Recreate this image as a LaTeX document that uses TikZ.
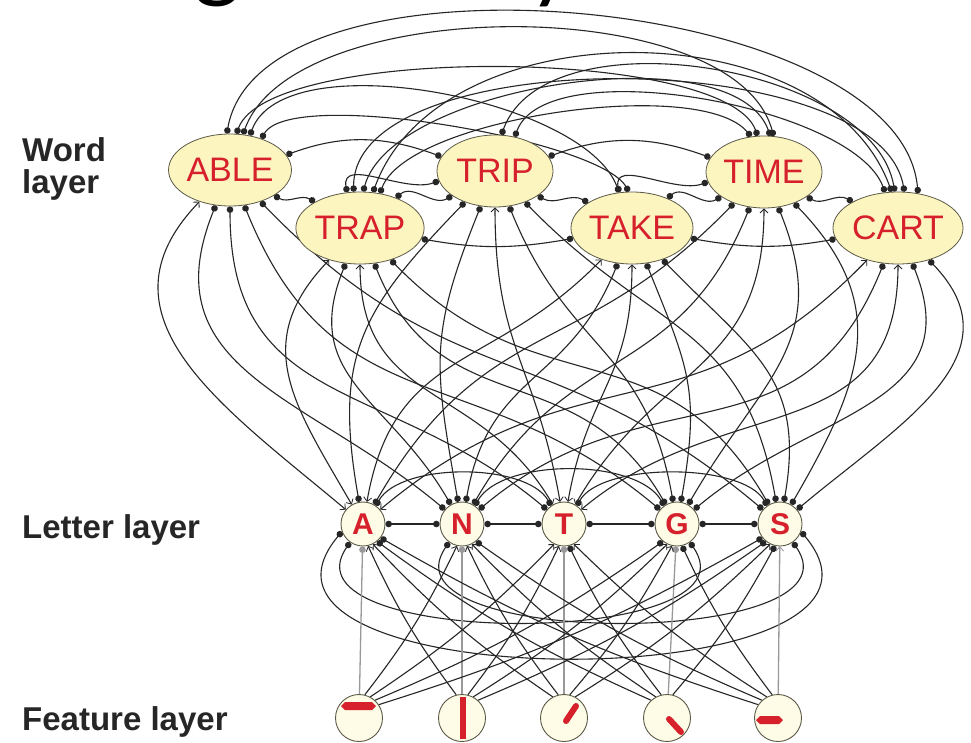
\documentclass[tikz,border=0pt]{standalone}
\usepackage{fontspec}
\setmainfont{Liberation Sans}
\newfontfamily\titlefont{Lato}
\usetikzlibrary{shapes.geometric,arrows.meta}
\pgfdeclarelayer{paper}
\pgfdeclarelayer{wires}
\pgfsetlayers{paper,wires,main}
\definecolor{wordfill}{HTML}{FDF5C0}
\definecolor{cellfill}{HTML}{FEFBE6}
\definecolor{inkred}{HTML}{D6202C}
\definecolor{rim}{HTML}{5A5A48}
\definecolor{wire}{HTML}{262626}
\begin{document}
\begin{tikzpicture}[x=1pt,y=1pt,
  inhdot/.tip={Circle[length=6.5pt]},
  exchead/.tip={Straight Barb[length=4pt,width=8pt,line width=0.8pt]},
  word/.style={ellipse, draw=rim, line width=0.8pt, fill=wordfill,
    minimum width=116pt, minimum height=72pt, inner sep=0pt,
    text=inkred, font=\fontsize{34}{34}\selectfont},
  letter/.style={circle, draw=rim, line width=0.9pt, fill=cellfill,
    minimum size=44pt, inner sep=0pt, text=inkred,
    font=\bfseries\fontsize{30}{30}\selectfont},
  feature/.style={circle, draw=rim, line width=0.9pt, fill=cellfill,
    minimum size=47pt, inner sep=0pt},
  layerlabel/.style={anchor=base west, inner sep=0pt, text=black!85,
    font=\bfseries\fontsize{33}{33}\selectfont},
  link/.style={draw=wire, line width=1.1pt},
  ii/.style={link, inhdot-inhdot},
  ee/.style={link, exchead-exchead},
  feed/.style={draw=black!40, line width=1.3pt},
  strokebar/.style={draw=inkred, line width=6pt, line cap=round},
]
\useasboundingbox (0,0) rectangle (971,-742);
\begin{pgfonlayer}{paper}
  \fill[white] (0,0) rectangle (971,-742);
\end{pgfonlayer}

% heading, mostly above the page
\node[anchor=base, inner sep=0pt, font=\titlefont\fontsize{90}{90}\selectfont] (hg) at (218,10) {g};
\node[anchor=base, inner sep=0pt, font=\titlefont\fontsize{90}{90}\selectfont] (hy) at (552,9) {y};

% layer labels
\node[layerlabel] (lab1) at (22,-161) {Word};
\node[layerlabel] (lab2) at (22,-193) {layer};
\node[layerlabel] (lab3) at (22,-538) {Letter layer};
\node[layerlabel] (lab4) at (22,-730) {Feature layer};

% word units
\node[word] (ABLE) at (230,-170) {ABLE};
\node[word] (TRAP) at (360,-228) {TRAP};
\node[word] (TRIP) at (495,-171) {TRIP};
\node[word] (TAKE) at (632,-228) {TAKE};
\node[word] (TIME) at (764,-172) {TIME};
\node[word] (CART) at (898,-228) {CART};

% letter units
\node[letter] (l1) at (363,-524) {A};
\node[letter] (l2) at (462,-524) {N};
\node[letter] (l3) at (564,-524) {T};
\node[letter] (l4) at (677,-524) {G};
\node[letter] (l5) at (780,-524) {S};

% feature units
\node[feature] (f1) at (359,-718) {};
\node[feature] (f2) at (462,-718) {};
\node[feature] (f3) at (564,-718) {};
\node[feature] (f4) at (667,-718) {};
\node[feature] (f5) at (778,-718) {};

% feature strokes
\fill[inkred, shift={(f1.center)}] (-18,12) -- (-14,16) -- (13,16) -- (17,12) -- (13,8) -- (-14,8) -- cycle;
\draw[strokebar, line cap=butt, shift={(f2.center)}] (1,21) -- (1,-21);
\draw[strokebar, shift={(f3.center)}] (2,-3) -- (12,12);
\draw[strokebar, shift={(f4.center)}] (2,-1) -- (14,-14);
\fill[inkred, shift={(f5.center)}] (-22,-2) -- (-18,2) -- (1,2) -- (5,-2) -- (1,-6) -- (-18,-6) -- cycle;

\begin{pgfonlayer}{wires}
% word <-> word inhibition, neighbours
\draw[ii] (ABLE.330) to[out=330,in=150] (TRAP.150);
\draw[ii] (TRAP.40) to[out=40,in=210] (TRIP.210);
\draw[ii] (TRIP.330) to[out=330,in=150] (TAKE.150);
\draw[ii] (TAKE.40) to[out=40,in=210] (TIME.210);
\draw[ii] (TIME.330) to[out=330,in=150] (CART.150);
\draw[ii] (ABLE.15) to[out=20,in=160] (TRIP.165);
\draw[ii] (TRIP.15) to[out=20,in=160] (TIME.165);
\draw[ii] (TRAP.350) to[out=-10,in=190] (TAKE.190);
\draw[ii] (TAKE.350) to[out=-10,in=190] (CART.190);
\draw[ii] (TRAP.110) to[out=100,in=200] (TRIP.190);
\draw[ii] (TAKE.110) to[out=100,in=200] (TIME.190);
% word <-> word inhibition, long arcs over the top
\draw[ii] (ABLE.95) .. controls +(80:200) and +(95:200) .. (CART.60);
\draw[ii] (ABLE.80) .. controls +(70:95) and +(110:95) .. (TIME.100);
\draw[ii] (ABLE.70) .. controls +(70:150) and +(105:150) .. (TIME.75);
\draw[ii] (TRAP.70) .. controls +(70:196) and +(110:196) .. (CART.100);
\draw[ii] (TRAP.100) .. controls +(90:150) and +(100:150) .. (CART.80);
\draw[ii] (ABLE.60) .. controls +(70:100) and +(110:100) .. (TAKE.110);
\draw[ii] (ABLE.45) .. controls +(60:60) and +(120:60) .. (TAKE.95);
\draw[ii] (TRAP.85) .. controls +(75:110) and +(110:110) .. (TIME.80);
\draw[ii] (TRAP.60) .. controls +(70:80) and +(130:80) .. (TIME.110);
\draw[ii] (TRIP.60) .. controls +(70:92) and +(110:92) .. (CART.110);
\draw[ii] (TRIP.80) .. controls +(70:130) and +(100:130) .. (CART.95);

% word <-> letter connections
\foreach \w/\wi/\hasA/\hasT in {ABLE/0/1/0, TRAP/1/1/1, TRIP/2/0/1, TAKE/3/1/1, TIME/4/0/1, CART/5/1/1}{
  \foreach \li in {1,...,5}{
    \pgfmathtruncatemacro\exc{(\li==1)*\hasA+(\li==3)*\hasT}
    \pgfmathtruncatemacro\aw{270+22*(\li-3)}
    \pgfmathtruncatemacro\al{140-20*\wi}
    \ifnum\exc=1
      \draw[ee] (\w.\aw) to[out=\aw,in=\al,looseness=1.2] (l\li.\al);
    \else
      \draw[ii] (\w.\aw) to[out=\aw,in=\al,looseness=1.2] (l\li.\al);
    \fi
  }
}

% letter <-> letter inhibition
\draw[ii] (l1.0) -- (l2.180);
\draw[ii] (l2.0) -- (l3.180);
\draw[ii] (l3.0) -- (l4.180);
\draw[ii] (l4.0) -- (l5.180);
\draw[ii] (l1.55) .. controls +(60:50) and +(120:50) .. (l3.125);
\draw[ii] (l2.55) .. controls +(60:55) and +(120:55) .. (l4.125);
\draw[ii] (l3.55) .. controls +(60:50) and +(120:50) .. (l5.125);
\draw[ii] (l1.235) .. controls +(235:130) and +(305:130) .. (l4.305);
\draw[ii] (l2.235) .. controls +(235:130) and +(305:130) .. (l5.305);
\draw[ii] (l1.200) .. controls +(230:220) and +(310:220) .. (l5.340);

% feature -> letter connections
\draw[feed, -inhdot] (f1) -- (l1);
\draw[feed, -inhdot] (f2) -- (l2);
\draw[feed, -inhdot] (f3) -- (l3);
\draw[feed, -inhdot] (f4) -- (l4);
\draw[feed, -exchead] (f5) -- (l5);
\foreach \i/\j/\tp in {1/2/1, 1/3/1, 1/4/0, 1/5/0,
                       2/1/1, 2/3/1, 2/4/1, 2/5/0,
                       3/1/1, 3/2/1, 3/4/1, 3/5/1,
                       4/1/0, 4/2/1, 4/3/0, 4/5/0,
                       5/1/0, 5/2/0, 5/3/1, 5/4/0}{
  \pgfmathtruncatemacro\fa{90-14*(\j-\i)}
  \pgfmathtruncatemacro\la{270-13*(\j-\i)}
  \pgfmathtruncatemacro\bd{6*sign(\j-\i)}
  \ifnum\tp=1
    \draw[link,-exchead] (f\i.\fa) to[bend right=\bd] (l\j.\la);
  \else
    \draw[link,-inhdot] (f\i.\fa) to[bend right=\bd] (l\j.\la);
  \fi
}
\end{pgfonlayer}
\end{tikzpicture}
\end{document}
